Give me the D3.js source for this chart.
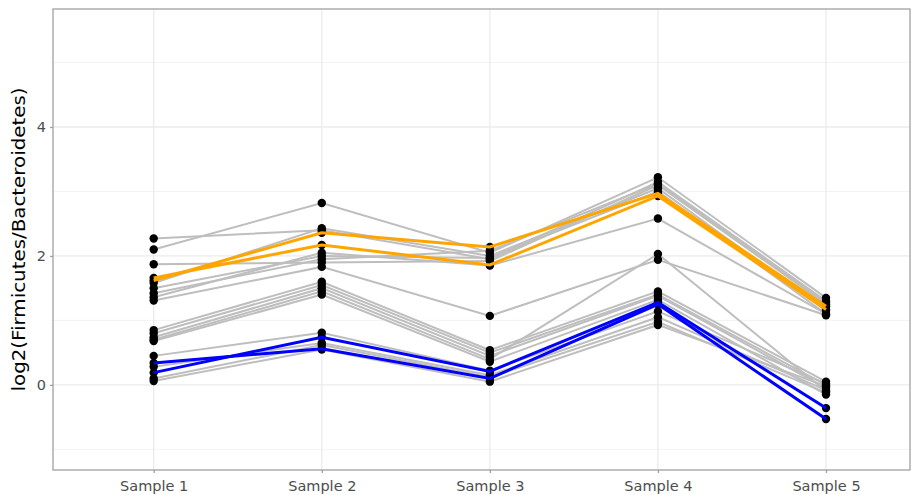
<!DOCTYPE html>
<html lang="en">
<head>
    <meta charset="UTF-8">
    <title>log2 Firmicutes/Bacteroidetes</title>
    <script src="https://d3js.org/d3.v7.min.js"></script>
    <style>
        body { margin: 0; background: #fff; font-family: "DejaVu Sans", sans-serif; }
    </style>
</head>
<body>
    <div id="chart"></div>
    <script>
        // categories
        const samples = ['Sample 1', 'Sample 2', 'Sample 3', 'Sample 4', 'Sample 5'];

        // grey background series
        const greySeries = [
            [2.27, 2.40, 1.95, 3.15, 1.30],
            [2.10, 2.82, 2.05, 3.22, 1.35],
            [1.87, 1.90, 1.92, 3.10, 1.25],
            [1.58, 2.43, 2.00, 3.05, 1.15],
            [1.50, 2.00, 1.97, 3.00, 1.10],
            [1.42, 1.95, 2.08, 3.12, 1.28],
            [1.36, 2.05, 1.85, 2.58, 1.10],
            [1.31, 1.83, 1.07, 1.94, 1.08],
            [0.85, 1.60, 0.54, 1.45, 0.05],
            [0.80, 1.55, 0.50, 1.40, 0.00],
            [0.74, 1.50, 0.45, 1.38, -0.05],
            [0.70, 1.45, 0.40, 2.03, -0.10],
            [0.68, 1.40, 0.36, 1.32, -0.15],
            [0.45, 0.81, 0.22, 1.14, 0.02],
            [0.28, 0.65, 0.15, 1.05, -0.08],
            [0.10, 0.62, 0.12, 0.98, -0.12],
            [0.06, 0.55, 0.05, 0.93, -0.02]
        ];
        // highlighted series
        const orangeSeries = [
            [1.62, 2.36, 2.14, 2.97, 1.22],
            [1.66, 2.17, 1.86, 2.93, 1.17]
        ];
        const blueSeries = [
            [0.19, 0.74, 0.21, 1.28, -0.36],
            [0.34, 0.56, 0.10, 1.25, -0.53]
        ];
        const yMajor = [0, 2, 4];
        const yMinor = [-1, 1, 3, 5];

        const width = 913, height = 495;
        const margin = { top: 9, right: 3, bottom: 25, left: 53 };

        const svg = d3.select('#chart').append('svg')
            .attr('width', width)
            .attr('height', height);

        const x = d3.scalePoint()
            .domain(samples)
            .range([153.7, 826]);

        const y = d3.scaleLinear()
            .domain([-1.32, 5.83])
            .range([height - margin.bottom, margin.top]);

        const pLeft = margin.left, pRight = width - margin.right;
        const pTop = margin.top, pBottom = height - margin.bottom;

        // grid
        svg.append('g').selectAll('line')
            .data(yMinor)
            .enter().append('line')
            .attr('x1', pLeft).attr('x2', pRight)
            .attr('y1', d => y(d)).attr('y2', d => y(d))
            .attr('stroke', '#f3f3f3').attr('stroke-width', 1);
        svg.append('g').selectAll('line')
            .data(yMajor)
            .enter().append('line')
            .attr('x1', pLeft).attr('x2', pRight)
            .attr('y1', d => y(d)).attr('y2', d => y(d))
            .attr('stroke', '#ebebeb').attr('stroke-width', 1.3);
        svg.append('g').selectAll('line')
            .data(samples)
            .enter().append('line')
            .attr('x1', d => x(d)).attr('x2', d => x(d))
            .attr('y1', pTop).attr('y2', pBottom)
            .attr('stroke', '#ebebeb').attr('stroke-width', 1.3);

        const line = d3.line()
            .x((d, i) => x(samples[i]))
            .y(d => y(d));

        svg.append('g').selectAll('path')
            .data(greySeries)
            .enter().append('path')
            .attr('d', line)
            .attr('fill', 'none')
            .attr('stroke', '#bebebe')
            .attr('stroke-width', 2);

        const allSeries = greySeries.concat(orangeSeries, blueSeries);
        const pts = [];
        allSeries.forEach(s => s.forEach((v, i) => pts.push([samples[i], v])));
        svg.append('g').selectAll('circle')
            .data(pts)
            .enter().append('circle')
            .attr('cx', d => x(d[0]))
            .attr('cy', d => y(d[1]))
            .attr('r', 4.2)
            .attr('fill', '#000');

        svg.append('g').selectAll('path')
            .data(orangeSeries)
            .enter().append('path')
            .attr('d', line)
            .attr('fill', 'none')
            .attr('stroke', '#ffa500')
            .attr('stroke-width', 3);

        svg.append('g').selectAll('path')
            .data(blueSeries)
            .enter().append('path')
            .attr('d', line)
            .attr('fill', 'none')
            .attr('stroke', '#0000ff')
            .attr('stroke-width', 3);

        // panel border
        svg.append('rect')
            .attr('x', pLeft).attr('y', pTop)
            .attr('width', pRight - pLeft).attr('height', pBottom - pTop)
            .attr('fill', 'none')
            .attr('stroke', '#a0a0a0')
            .attr('stroke-width', 1.3);

        // axes
        const yAxis = svg.append('g')
            .attr('transform', `translate(${pLeft},0)`)
            .call(d3.axisLeft(y).tickValues(yMajor).tickSize(3).tickPadding(4));
        const xAxis = svg.append('g')
            .attr('transform', `translate(0,${pBottom})`)
            .call(d3.axisBottom(x).tickSize(3).tickPadding(8));
        [yAxis, xAxis].forEach(g => {
            g.select('.domain').remove();
            g.selectAll('line').attr('stroke', '#a0a0a0').attr('stroke-width', 1.3);
            g.selectAll('text')
                .attr('fill', '#4d4d4d')
                .style('font-family', '"DejaVu Sans", sans-serif')
                .style('font-size', '14.5px');
        });

        svg.append('text')
            .attr('transform', `translate(25,${(pTop + pBottom) / 2}) rotate(-90)`)
            .attr('text-anchor', 'middle')
            .attr('textLength', 304)
            .attr('lengthAdjust', 'spacingAndGlyphs')
            .style('font-family', '"DejaVu Sans", sans-serif')
            .style('font-size', '17.5px')
            .attr('fill', '#000')
            .text('log2(Firmicutes/Bacteroidetes)');
    </script>
</body>
</html>
